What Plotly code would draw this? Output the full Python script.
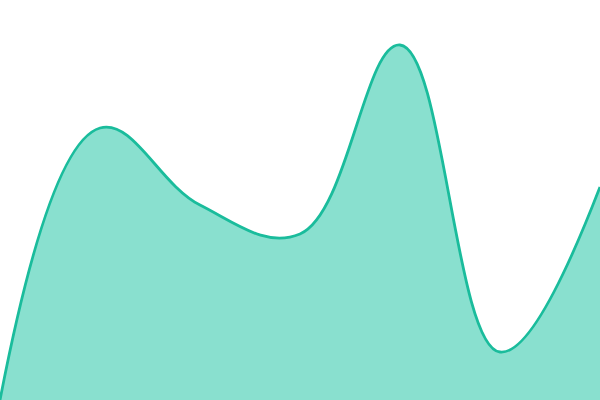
import plotly.graph_objects as go

# values (0 = bottom edge, 400 = top edge)
x_vals = [0, 100, 200, 300, 400, 500, 600]
y_vals = [0, 272, 195, 166, 355, 48, 213]

fig = go.Figure()
fig.add_trace(go.Scatter(
    x=x_vals, y=y_vals,
    mode="lines",
    line=dict(color="#1abc9c", width=2.8, shape="spline", smoothing=1.15),
    fill="tozeroy",
    fillcolor="#89e0cf",
    hoverinfo="skip",
))

fig.update_layout(
    width=600, height=400,
    margin=dict(l=0, r=0, t=0, b=0),
    paper_bgcolor="white", plot_bgcolor="white",
    showlegend=False,
    xaxis=dict(range=[0, 600], visible=False, fixedrange=True),
    yaxis=dict(range=[0, 400], visible=False, fixedrange=True),
)

# drop the default body margin so the chart sits flush in the window
fig.write_html(
    "out.html",
    config={"displayModeBar": False},
    post_script="document.body.style.margin='0';document.body.style.overflow='hidden';",
)
